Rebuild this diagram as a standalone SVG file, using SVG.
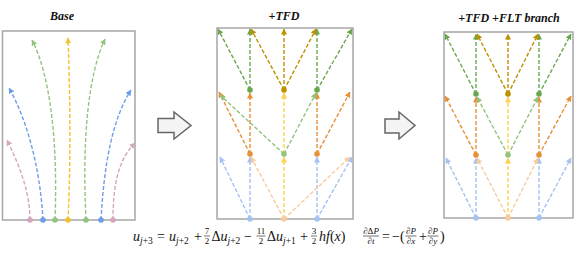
<svg xmlns="http://www.w3.org/2000/svg" width="578" height="259" viewBox="0 0 578 259">
<style>
.box{fill:#fff;stroke:#a6a6a6;stroke-width:1.5}
.ttl{font-family:"Liberation Serif",serif;font-weight:bold;font-style:italic;font-size:12px;fill:#111;text-anchor:middle}
.e{fill:none;stroke-width:1.4;stroke-dasharray:4 2}
.pink{stroke:#d5a6bd}.blue{stroke:#6d9eeb}.green{stroke:#93c47d}.yel{stroke:#f1c232}
.lb{stroke:#a4c2f4}.pe{stroke:#f9cb9c}.ye{stroke:#ffd24d}.or{stroke:#e69138}.lg{stroke:#93c47d}.dg{stroke:#6aa84f}.dy{stroke:#bf9000}
.blk{fill:#f4f4f4;stroke:#666;stroke-width:1.5}
.m{font-family:"Liberation Serif",serif;font-size:14px;fill:#111}
.i{font-style:italic}
.s{font-size:9.5px}
.f{font-family:"Liberation Serif",serif;font-size:9px;fill:#111;text-anchor:middle}
.fb{stroke:#111;stroke-width:0.6}
</style>
<defs>
<marker id="a-pink" markerWidth="6" markerHeight="6" refX="5.5" refY="3" orient="auto" markerUnits="userSpaceOnUse"><path d="M0,0 L6,3 L0,6 Z" fill="#d5a6bd"/></marker>
<marker id="a-blue" markerWidth="6" markerHeight="6" refX="5.5" refY="3" orient="auto" markerUnits="userSpaceOnUse"><path d="M0,0 L6,3 L0,6 Z" fill="#6d9eeb"/></marker>
<marker id="a-green" markerWidth="6" markerHeight="6" refX="5.5" refY="3" orient="auto" markerUnits="userSpaceOnUse"><path d="M0,0 L6,3 L0,6 Z" fill="#93c47d"/></marker>
<marker id="a-yel" markerWidth="6" markerHeight="6" refX="5.5" refY="3" orient="auto" markerUnits="userSpaceOnUse"><path d="M0,0 L6,3 L0,6 Z" fill="#f1c232"/></marker>
<marker id="a-lb" markerWidth="6" markerHeight="6" refX="5.5" refY="3" orient="auto" markerUnits="userSpaceOnUse"><path d="M0,0 L6,3 L0,6 Z" fill="#a4c2f4"/></marker>
<marker id="a-pe" markerWidth="6" markerHeight="6" refX="5.5" refY="3" orient="auto" markerUnits="userSpaceOnUse"><path d="M0,0 L6,3 L0,6 Z" fill="#f9cb9c"/></marker>
<marker id="a-ye" markerWidth="6" markerHeight="6" refX="5.5" refY="3" orient="auto" markerUnits="userSpaceOnUse"><path d="M0,0 L6,3 L0,6 Z" fill="#ffd24d"/></marker>
<marker id="a-or" markerWidth="6" markerHeight="6" refX="5.5" refY="3" orient="auto" markerUnits="userSpaceOnUse"><path d="M0,0 L6,3 L0,6 Z" fill="#e69138"/></marker>
<marker id="a-lg" markerWidth="6" markerHeight="6" refX="5.5" refY="3" orient="auto" markerUnits="userSpaceOnUse"><path d="M0,0 L6,3 L0,6 Z" fill="#93c47d"/></marker>
<marker id="a-dg" markerWidth="6" markerHeight="6" refX="5.5" refY="3" orient="auto" markerUnits="userSpaceOnUse"><path d="M0,0 L6,3 L0,6 Z" fill="#6aa84f"/></marker>
<marker id="a-dy" markerWidth="6" markerHeight="6" refX="5.5" refY="3" orient="auto" markerUnits="userSpaceOnUse"><path d="M0,0 L6,3 L0,6 Z" fill="#bf9000"/></marker>
</defs>

<!-- panel frames and titles -->
<g id="panel-base">
<rect class="box" x="2.5" y="31" width="132.5" height="189"/>
<text class="ttl" x="62" y="20">Base</text>
</g>
<g id="panel-tfd">
<rect class="box" x="217" y="28" width="136" height="191"/>
<text class="ttl" x="284" y="20">+TFD</text>
</g>
<g id="panel-flt">
<rect class="box" x="444" y="32" width="129" height="186"/>
<text class="ttl" x="509" y="22">+TFD +FLT branch</text>
</g>

<!-- block arrows -->
<g id="arrow-1"><path class="blk" d="M158,118.5 H174 V112 L191,125.5 L174,139 V132.5 H158 Z"/></g>
<g id="arrow-2"><path class="blk" d="M385,119 H399 V112 L415,125.5 L399,139 V133 H385 Z"/></g>

<!-- connectors -->
<g id="connectors">
<!-- Base -->
<path class="e pink" marker-end="url(#a-pink)" d="M30,220 C30,190 18,163 7,140"/>
<path class="e blue" marker-end="url(#a-blue)" d="M43,220 C40,165 26,118 9,88"/>
<path class="e green" marker-end="url(#a-green)" d="M55,220 C58,140 50,75 32,40"/>
<path class="e yel" marker-end="url(#a-yel)" d="M68,220 C71,160 70,90 68,38"/>
<path class="e green" marker-end="url(#a-green)" d="M86,220 C82,140 88,75 105,39"/>
<path class="e blue" marker-end="url(#a-blue)" d="M101,220 C104,165 112,120 131,90"/>
<path class="e pink" marker-end="url(#a-pink)" d="M113,220 C113,180 120,158 135,143"/>

<!-- TFD -->
<path class="e lb" marker-end="url(#a-lb)" d="M250,219 L220,157"/>
<path class="e lb" marker-end="url(#a-lb)" d="M250,219 L250,157"/>
<path class="e lb" marker-end="url(#a-lb)" d="M317,219 L317,157"/>
<path class="e lb" marker-end="url(#a-lb)" d="M317,219 L352,157"/>
<path class="e pe" marker-end="url(#a-pe)" d="M284,219 L251,157"/>
<path class="e pe" marker-end="url(#a-pe)" d="M284,219 L350,157"/>
<path class="e ye" marker-end="url(#a-ye)" d="M284,219 L284,157"/>
<path class="e or" marker-end="url(#a-or)" d="M250,154 L219,92"/>
<path class="e or" marker-end="url(#a-or)" d="M250,154 L250,93"/>
<path class="e or" marker-end="url(#a-or)" d="M317,154 L317,93"/>
<path class="e or" marker-end="url(#a-or)" d="M317,154 L350,92"/>
<path class="e lg" marker-end="url(#a-lg)" d="M284,154 L220,95"/>
<path class="e lg" marker-end="url(#a-lg)" d="M284,154 L316,93"/>
<path class="e ye" marker-end="url(#a-ye)" d="M284,154 L284,93"/>
<path class="e dg" marker-end="url(#a-dg)" d="M250,90 L218,29"/>
<path class="e dg" marker-end="url(#a-dg)" d="M250,90 L250,29"/>
<path class="e dg" marker-end="url(#a-dg)" d="M317,90 L317,29"/>
<path class="e dg" marker-end="url(#a-dg)" d="M317,90 L352,29"/>
<path class="e dy" marker-end="url(#a-dy)" d="M284,90 L251,29"/>
<path class="e dy" marker-end="url(#a-dy)" d="M284,90 L284,29"/>
<path class="e dy" marker-end="url(#a-dy)" d="M284,90 L316,29"/>

<!-- FLT -->
<path class="e lb" marker-end="url(#a-lb)" d="M476,218 L446,158"/>
<path class="e lb" marker-end="url(#a-lb)" d="M476,218 L476,158"/>
<path class="e lb" marker-end="url(#a-lb)" d="M539,218 L539,158"/>
<path class="e lb" marker-end="url(#a-lb)" d="M539,218 L571,158"/>
<path class="e pe" marker-end="url(#a-pe)" d="M508,218 L477,158"/>
<path class="e pe" marker-end="url(#a-pe)" d="M508,218 L538,158"/>
<path class="e ye" marker-end="url(#a-ye)" d="M508,218 L508,158"/>
<path class="e or" marker-end="url(#a-or)" d="M476,155 L445,96"/>
<path class="e or" marker-end="url(#a-or)" d="M476,155 L476,97"/>
<path class="e or" marker-end="url(#a-or)" d="M539,155 L539,97"/>
<path class="e or" marker-end="url(#a-or)" d="M539,155 L571,96"/>
<path class="e lg" marker-end="url(#a-lg)" d="M508,155 L477,97"/>
<path class="e lg" marker-end="url(#a-lg)" d="M508,155 L538,97"/>
<path class="e ye" marker-end="url(#a-ye)" d="M508,155 L508,97"/>
<path class="e dg" marker-end="url(#a-dg)" d="M476,94 L445,34"/>
<path class="e dg" marker-end="url(#a-dg)" d="M476,94 L476,34"/>
<path class="e dg" marker-end="url(#a-dg)" d="M539,94 L539,34"/>
<path class="e dg" marker-end="url(#a-dg)" d="M539,94 L571,34"/>
<path class="e dy" marker-end="url(#a-dy)" d="M508,94 L477,34"/>
<path class="e dy" marker-end="url(#a-dy)" d="M508,94 L508,34"/>
<path class="e dy" marker-end="url(#a-dy)" d="M508,94 L538,34"/>
</g>

<!-- nodes: Base -->
<g id="base-n1"><circle cx="30" cy="220" r="2.8" fill="#d5a6bd"/></g>
<g id="base-n2"><circle cx="43" cy="220" r="2.8" fill="#6d9eeb"/></g>
<g id="base-n3"><circle cx="55" cy="220" r="2.8" fill="#93c47d"/></g>
<g id="base-n4"><circle cx="68" cy="220" r="2.8" fill="#f1c232"/></g>
<g id="base-n5"><circle cx="86" cy="220" r="2.8" fill="#93c47d"/></g>
<g id="base-n6"><circle cx="101" cy="220" r="2.8" fill="#6d9eeb"/></g>
<g id="base-n7"><circle cx="113" cy="220" r="2.8" fill="#d5a6bd"/></g>

<!-- nodes: TFD -->
<g id="tfd-b1"><circle cx="250" cy="219" r="2.8" fill="#a4c2f4"/></g>
<g id="tfd-b2"><circle cx="284" cy="219" r="2.8" fill="#f9cb9c"/></g>
<g id="tfd-b3"><circle cx="317" cy="219" r="2.8" fill="#a4c2f4"/></g>
<g id="tfd-m1"><circle cx="250" cy="154" r="2.8" fill="#e69138"/></g>
<g id="tfd-m2"><circle cx="284" cy="154" r="2.8" fill="#93c47d"/></g>
<g id="tfd-m3"><circle cx="317" cy="154" r="2.8" fill="#e69138"/></g>
<g id="tfd-t1"><circle cx="250" cy="90" r="2.8" fill="#6aa84f"/></g>
<g id="tfd-t2"><circle cx="284" cy="90" r="2.8" fill="#bf9000"/></g>
<g id="tfd-t3"><circle cx="317" cy="90" r="2.8" fill="#6aa84f"/></g>

<!-- nodes: FLT -->
<g id="flt-b1"><circle cx="476" cy="218" r="2.8" fill="#a4c2f4"/></g>
<g id="flt-b2"><circle cx="508" cy="218" r="2.8" fill="#f9cb9c"/></g>
<g id="flt-b3"><circle cx="539" cy="218" r="2.8" fill="#a4c2f4"/></g>
<g id="flt-m1"><circle cx="476" cy="155" r="2.8" fill="#e69138"/></g>
<g id="flt-m2"><circle cx="508" cy="155" r="2.8" fill="#93c47d"/></g>
<g id="flt-m3"><circle cx="539" cy="155" r="2.8" fill="#e69138"/></g>
<g id="flt-t1"><circle cx="476" cy="94" r="2.8" fill="#6aa84f"/></g>
<g id="flt-t2"><circle cx="508" cy="94" r="2.8" fill="#bf9000"/></g>
<g id="flt-t3"><circle cx="539" cy="94" r="2.8" fill="#6aa84f"/></g>

<!-- equations -->
<g id="equation-1">
<text class="m" x="133" y="241"><tspan class="i">u</tspan><tspan class="i s" dy="3">j</tspan><tspan class="s">+3</tspan></text>
<text class="m" x="157" y="241">=</text>
<text class="m" x="169" y="241"><tspan class="i">u</tspan><tspan class="i s" dy="3">j</tspan><tspan class="s">+2</tspan></text>
<text class="m" x="194" y="241">+</text>
<text class="f" x="207" y="233.5">7</text><line class="fb" x1="204" y1="236" x2="210" y2="236"/><text class="f" x="207" y="244">2</text>
<text class="m" x="211.5" y="241">Δ<tspan class="i">u</tspan><tspan class="i s" dy="3">j</tspan><tspan class="s">+2</tspan></text>
<text class="m" x="244" y="241">−</text>
<text class="f" x="261" y="233.5">11</text><line class="fb" x1="256.5" y1="236" x2="265.5" y2="236"/><text class="f" x="261" y="244">2</text>
<text class="m" x="267" y="241">Δ<tspan class="i">u</tspan><tspan class="i s" dy="3">j</tspan><tspan class="s">+1</tspan></text>
<text class="m" x="300" y="241">+</text>
<text class="f" x="314" y="233.5">3</text><line class="fb" x1="311" y1="236" x2="317" y2="236"/><text class="f" x="314" y="244">2</text>
<text class="m" x="319" y="241"><tspan class="i">hf</tspan>(<tspan class="i">x</tspan>)</text>
</g>
<g id="equation-2">
<text class="f" x="371" y="233.5"><tspan class="i">∂</tspan>Δ<tspan class="i">P</tspan></text><line class="fb" x1="363" y1="236" x2="379" y2="236"/><text class="f" x="371" y="244"><tspan class="i">∂t</tspan></text>
<text class="m" x="382" y="241">=</text>
<text class="m" x="392" y="241">−(</text>
<text class="f" x="411" y="233.5"><tspan class="i">∂P</tspan></text><line class="fb" x1="405.5" y1="236" x2="416.5" y2="236"/><text class="f" x="411" y="244"><tspan class="i">∂x</tspan></text>
<text class="m" x="419" y="241">+</text>
<text class="f" x="433" y="233.5"><tspan class="i">∂P</tspan></text><line class="fb" x1="427.5" y1="236" x2="438.5" y2="236"/><text class="f" x="433" y="244"><tspan class="i">∂y</tspan></text>
<text class="m" x="440" y="241">)</text>
</g>
</svg>
